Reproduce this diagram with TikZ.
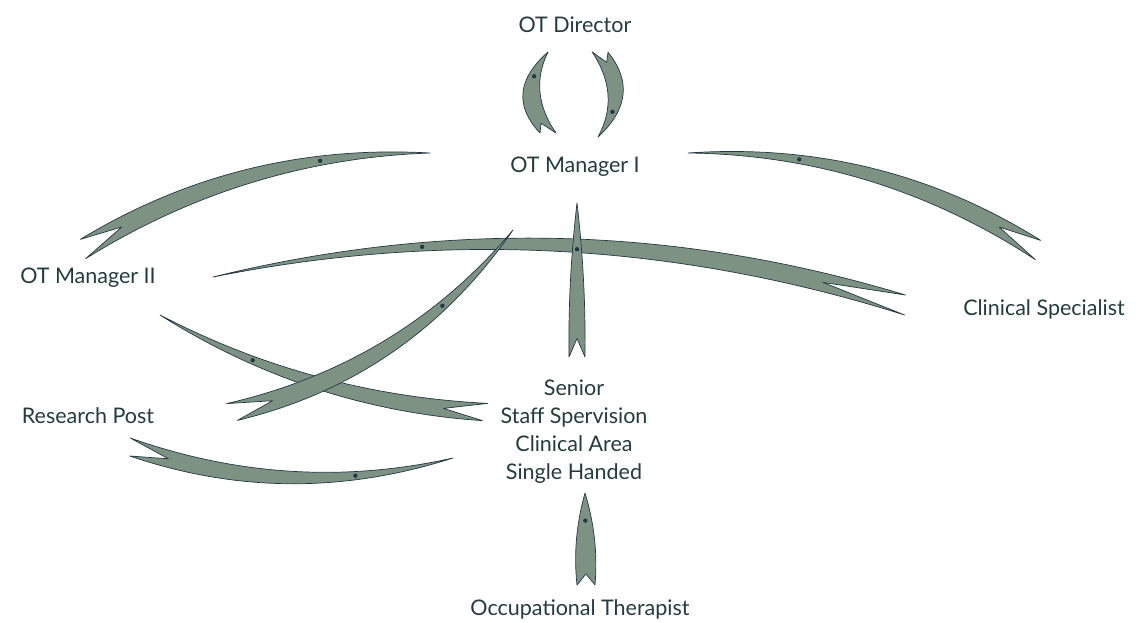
\documentclass[tikz,border=0pt]{standalone}
\usepackage{fontspec}
\setmainfont{Lato}
\usetikzlibrary{calc}
\definecolor{arrowfill}{RGB}{126,146,132}
\definecolor{arrowedge}{RGB}{36,56,68}
\definecolor{labeltext}{RGB}{36,60,58}
\tikzset{
  lbl/.style={text=labeltext,font=\fontsize{21.5}{28}\selectfont,inner sep=0pt,anchor=base},
  arrowbody/.style={fill=arrowfill,draw=arrowedge,line width=0.7pt,line join=round},
  arrowmark/.style={fill=arrowedge}
}
% tail, head, bend, width, fork spread, name
\newcommand\careerarrow[6]{%
  \pgfmathsetmacro\bo{#3+#4}\pgfmathsetmacro\bi{#3-#4}%
  \pgfmathsetmacro\bn{0.21*#3}\pgfmathsetmacro\bm{0.42*#3}%
  \coordinate (#6-p1) at ($(#1)!#5pt!90:(#2)$);
  \coordinate (#6-p2) at ($(#1)!#5pt!-90:(#2)$);
  \coordinate (#6-co) at ($(#1)!0.5!(#2)!\bo pt!90:(#2)$);
  \coordinate (#6-ci) at ($(#1)!0.5!(#2)!\bi pt!90:(#2)$);
  \coordinate (#6-n) at ($(#1)!0.12!(#2)!\bn pt!90:(#2)$);
  \coordinate (#6-m) at ($(#1)!0.7!(#2)!\bm pt!90:(#2)$);
  \filldraw[arrowbody](#6-p1) .. controls ($(#6-p1)!0.667!(#6-co)$) and ($(#2)!0.667!(#6-co)$) .. (#2)
    .. controls ($(#2)!0.667!(#6-ci)$) and ($(#6-p2)!0.667!(#6-ci)$) .. (#6-p2)--(#6-n)--cycle;
  \fill[arrowmark](#6-m) circle (2.2pt);
}
\begin{document}
\begin{tikzpicture}[x=1pt,y=-1pt]
\useasboundingbox (0,0) rectangle (1144,623);
% labels
\node[lbl] (director) at (575,33) {OT Director};
\node[lbl] (mgrone) at (575,173) {OT Manager I};
\node[lbl] (mgrtwo) at (88,283) {OT Manager II};
\node[lbl] (research) at (88,423) {Research Post};
\node[lbl] (clinspec) at (1044,315) {Clinical Specialist};
\node[lbl,anchor=north,align=center] (senior) at (574,380) {Senior\\Staff Spervision\\Clinical Area\\Single Handed};
\node[lbl] (therapist) at (580,615) {Occupational Therapist};
% arrow ends
\coordinate (t1) at (548,133); \coordinate (h1) at (548,52);
\coordinate (t2) at (600,52);  \coordinate (h2) at (598,137);
\coordinate (t3) at (83,249);  \coordinate (h3) at (430,153);
\coordinate (t4) at (1038,250);\coordinate (h4) at (688,153);
\coordinate (t5) at (905,305); \coordinate (h5) at (213,277);
\coordinate (t6) at (577,357); \coordinate (h6) at (577,203);
\coordinate (t7) at (586,585); \coordinate (h7) at (585,493);
\coordinate (t8) at (485,412); \coordinate (h8) at (160,315);
\coordinate (t9) at (232,412); \coordinate (h9) at (513,230);
\coordinate (t10) at (130,447);\coordinate (h10) at (453,458);
% arrows
\careerarrow{t1}{h1}{33}{13}{8}{a1}
\careerarrow{t2}{h2}{33}{11}{8}{a2}
\careerarrow{t3}{h3}{52}{9}{10}{a3}
\careerarrow{t4}{h4}{-56}{8}{10}{a4}
\careerarrow{t5}{h5}{-92}{8}{10}{a5}
\careerarrow{t6}{h6}{0}{9}{8}{a6}
\careerarrow{t7}{h7}{0}{13.5}{9}{a7}
\careerarrow{t8}{h8}{40}{7.5}{9}{a8}
\careerarrow{t9}{h9}{-60}{9}{10}{a9}
\careerarrow{t10}{h10}{-50}{8}{9}{a10}
\end{tikzpicture}
\end{document}
